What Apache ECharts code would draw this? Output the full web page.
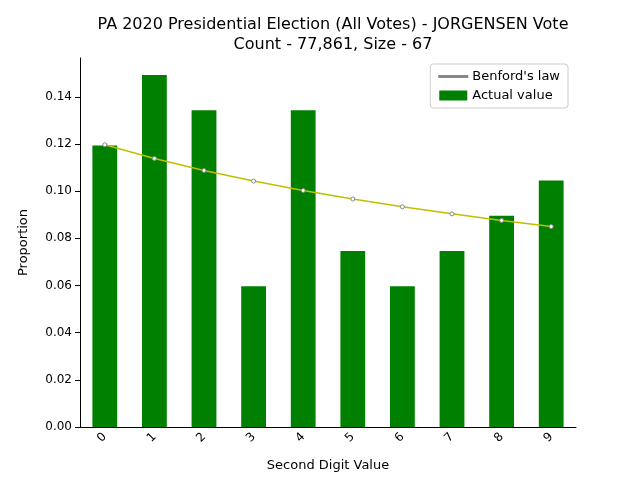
<!DOCTYPE html>
<html>
<head>
<meta charset="utf-8">
<script src="https://cdn.jsdelivr.net/npm/echarts@6/dist/echarts.min.js"></script>
<style>body{margin:0}#chart{width:640px;height:480px}</style>
</head>
<body>
<div id="chart"></div>
<script>
const digits = ['0', '1', '2', '3', '4', '5', '6', '7', '8', '9'];
const actual = [0.1194, 0.1493, 0.1343, 0.0597, 0.1343, 0.0746, 0.0597, 0.0746, 0.0896, 0.1045];
const benford = [0.1197, 0.1139, 0.1088, 0.1043, 0.1003, 0.0967, 0.0934, 0.0904, 0.0876, 0.0850];

const chart = echarts.init(document.getElementById('chart'));
const font = 'DejaVu Sans';
chart.setOption({
    animation: false,
    textStyle: {fontFamily: font},
    title: {
        text: 'PA 2020 Presidential Election (All Votes) - JORGENSEN Vote\nCount - 77,861, Size - 67',
        left: 328,
        textAlign: 'center',
        top: 10,
        textStyle: {fontFamily: font, fontSize: 16, fontWeight: 'normal', color: '#000', lineHeight: 20}
    },
    legend: {
        right: 72,
        top: 64,
        orient: 'vertical',
        borderColor: '#ccc',
        borderWidth: 1,
        borderRadius: 3,
        padding: [6, 8],
        itemGap: 6,
        itemWidth: 28,
        itemHeight: 10,
        textStyle: {fontFamily: font, fontSize: 13, color: '#000'},
        data: [
            {name: "Benford's law", icon: 'path://M0,5L28,5L28,6L0,6Z'},
            {name: 'Actual value', icon: 'rect'}
        ]
    },
    grid: {left: 80, right: 64, top: 58, bottom: 53},
    xAxis: {
        type: 'category',
        data: digits,
        name: 'Second Digit Value',
        nameLocation: 'middle',
        nameGap: 32,
        nameTextStyle: {fontSize: 13, color: '#000'},
        axisLine: {lineStyle: {color: '#000'}},
        axisTick: {alignWithLabel: true, lineStyle: {color: '#000'}},
        axisLabel: {rotate: 45, color: '#000', fontSize: 12}
    },
    yAxis: {
        type: 'value',
        min: 0,
        max: 0.1565,
        interval: 0.02,
        name: 'Proportion',
        nameLocation: 'middle',
        nameGap: 50,
        nameTextStyle: {fontSize: 13, color: '#000'},
        axisLine: {show: true, lineStyle: {color: '#000'}},
        axisTick: {show: true, lineStyle: {color: '#000'}},
        splitLine: {show: false},
        axisLabel: {color: '#000', fontSize: 12, formatter: v => v.toFixed(2), showMaxLabel: false}
    },
    series: [
        {
            name: 'Actual value',
            type: 'bar',
            data: actual,
            barWidth: '50%',
            itemStyle: {color: '#008000'}
        },
        {
            name: "Benford's law",
            type: 'line',
            data: benford,
            symbol: 'circle',
            symbolSize: 4,
            itemStyle: {color: '#fff', borderColor: '#888', borderWidth: 1},
            lineStyle: {color: '#bfbf00', width: 1.5},
            z: 5
        }
    ]
});
</script>
</body>
</html>
